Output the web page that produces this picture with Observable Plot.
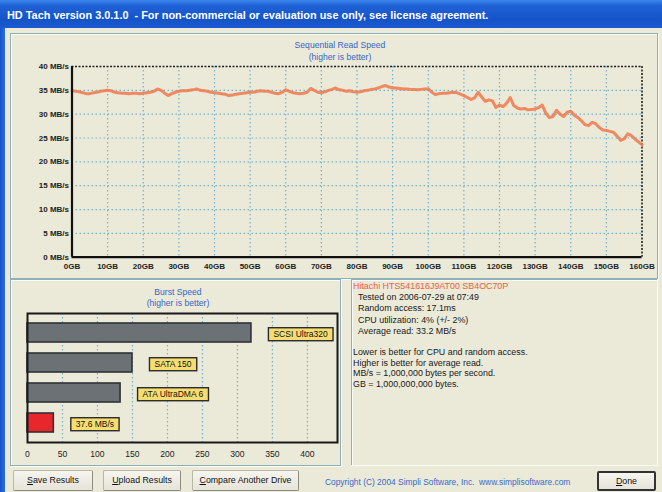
<!DOCTYPE html>
<html><head><meta charset="utf-8">
<script src="https://cdn.jsdelivr.net/npm/d3@7"></script>
<script src="https://cdn.jsdelivr.net/npm/@observablehq/plot@0.6"></script>
<style>
html,body{margin:0;padding:0;}
body{width:662px;height:492px;overflow:hidden;background:#ebe9d8;position:relative;font-family:"Liberation Sans",Arial,sans-serif;}
.abs{position:absolute;}
#titlebar{left:0;top:0;width:662px;height:28px;background:linear-gradient(#3d86ee 0%,#1f62d6 20%,#1553c8 70%,#1a5ad0 100%);}
#titletext{left:7px;top:9px;color:#fff;font-weight:bold;font-size:10.9px;white-space:nowrap;}
#leftborder{left:0;top:28px;width:5px;height:464px;background:linear-gradient(90deg,#1553c8,#2c6ee0);}
.panel{border:1px solid #8fb0b8;box-shadow:inset 1px 1px 0 #fbfbf6, 1px 1px 0 #fbfbf6;}
.ptitle{color:#3466c9;font-size:8.6px;text-align:center;white-space:nowrap;}
.info{font-size:8.9px;color:#1a1a1a;white-space:nowrap;}
.btn{background:linear-gradient(#f6f5ef,#e6e4d8);border:1px solid #b9b7a6;border-right-color:#8d8b7c;border-bottom-color:#8d8b7c;border-radius:2px;font-size:8.8px;color:#111;text-align:center;box-sizing:border-box;line-height:19px;white-space:nowrap;}
</style></head>
<body>
<div id="titlebar" class="abs"></div>
<div id="titletext" class="abs">HD Tach version 3.0.1.0&nbsp; - For non-commercial or evaluation use only, see license agreement.</div>
<div id="leftborder" class="abs"></div>
<div class="abs panel" style="left:10px;top:33px;width:646px;height:244px;"></div>
<div class="abs panel" style="left:10px;top:279px;width:329px;height:185px;"></div>
<div class="abs panel" style="left:351px;top:279px;width:305px;height:185px;border-right:none;border-bottom:none;"></div>
<div class="abs ptitle" style="left:240px;top:40px;width:200px;">Sequential Read Speed</div>
<div class="abs ptitle" style="left:240px;top:52px;width:200px;">(higher is better)</div>
<div class="abs ptitle" style="left:78px;top:287px;width:200px;">Burst Speed</div>
<div class="abs ptitle" style="left:78px;top:298px;width:200px;">(higher is better)</div>
<div id="chart1" class="abs" style="left:0;top:30px;"></div>
<div id="chart2" class="abs" style="left:0;top:270px;"></div>
<div id="info"></div>
<div class="abs btn" style="left:13px;top:470px;width:80px;height:21px;"><u>S</u>ave Results</div>
<div class="abs btn" style="left:103px;top:470px;width:78px;height:21px;"><u>U</u>pload Results</div>
<div class="abs btn" style="left:192px;top:470px;width:107px;height:21px;"><u>C</u>ompare Another Drive</div>
<div class="abs" style="left:325px;top:477px;font-size:8.4px;color:#3a6ad0;white-space:nowrap;">Copyright (C) 2004 Simpli Software, Inc.&nbsp; www.simplisoftware.com</div>
<div class="abs btn" style="left:597px;top:471px;width:59px;height:20px;border:2px solid #333;line-height:16px;"><u>D</u>one</div>
<script>
// Sequential read speed (GB, MB/s)
const seqGB = [0,1,2,3,4,5,6,7,8,9,10,11,12,13,14,15,16,17,18,19,20,21,22,23,24,25,26,27,28,29,30,31,32,33,34,35,36,37,38,39,40,41,42,43,44,45,46,47,48,49,50,51,52,53,54,55,56,57,58,59,60,61,62,63,64,65,66,67,68,69,70,71,72,73,74,75,76,77,78,79,80,81,82,83,84,85,86,87,88,89,90,91,92,93,94,95,96,97,98,99,100,101,102,103,104,105,106,107,108,109,110,111,112,113,114,115,116,117,118,119,120,121,122,123,124,125,126,127,128,129,130,131,132,133,134,135,136,137,138,139,140,141,142,143,144,145,146,147,148,149,150,151,152,153,154,155,156,157,158,159,160];
const seqMBs = [34.9,34.8,34.7,34.5,34.3,34.3,34.5,34.6,34.8,34.9,35.0,34.9,34.6,34.5,34.4,34.4,34.3,34.4,34.4,34.3,34.4,34.5,34.6,34.8,35.3,35.0,34.4,33.9,34.3,34.6,34.8,34.9,34.9,35.0,35.1,35.3,35.0,34.9,34.8,34.6,34.5,34.4,34.3,34.2,33.9,34.0,34.2,34.3,34.4,34.5,34.6,34.6,34.8,34.9,34.8,34.8,34.6,34.4,34.3,34.6,35.1,34.8,34.5,34.4,34.3,34.4,34.6,35.4,35.0,34.6,34.5,34.7,35.0,35.2,35.5,35.1,35.0,34.8,34.9,34.7,34.6,34.7,34.9,35.0,35.2,35.3,35.5,35.8,36.0,35.7,35.5,35.5,35.4,35.3,35.3,35.2,35.2,35.1,35.2,35.3,35.3,34.6,34.1,34.3,34.4,34.4,34.5,34.6,34.5,34.2,33.9,33.5,33.1,33.4,34.6,33.6,32.7,33.0,32.8,31.4,31.9,31.6,32.3,33.5,31.8,31.3,31.1,31.2,30.9,31.0,31.1,31.4,31.9,30.2,29.3,29.5,30.8,30.0,29.5,30.4,30.6,29.8,29.3,28.6,27.8,27.6,28.3,28.0,27.2,26.7,26.6,26.4,26.2,25.4,24.5,24.8,25.9,25.5,24.8,24.2,23.6];
const xTicks = [0,10,20,30,40,50,60,70,80,90,100,110,120,130,140,150,160];
const yTicks = [0,5,10,15,20,25,30,35,40];

// Burst speed
const burstNames = ["SCSI Ultra320","SATA 150","ATA UltraDMA 6","This drive"];
const burstValues = [320,150,133,37.6];
const burstLabels = ["SCSI Ultra320","SATA 150","ATA UltraDMA 6","37.6 MB/s"];
const burstColors = ["#6c7176","#6c7176","#6c7176","#e8262b"];
const burstTicks = [0,50,100,150,200,250,300,350,400];

// Info panel
const driveName = "Hitachi HTS541616J9AT00 SB4OC70P";
const infoLines = ["Tested on 2006-07-29 at 07:49","Random access: 17.1ms","CPU utilization: 4% (+/- 2%)","Average read: 33.2 MB/s"];
const noteLines = ["Lower is better for CPU and random access.","Higher is better for average read.","MB/s = 1,000,000 bytes per second.","GB = 1,000,000,000 bytes."];

const font = '"Liberation Sans", Arial, sans-serif';
const seq = seqGB.map((g,i)=>({gb:g, v:seqMBs[i]}));
const grid = "#72b4d2";

const c1 = Plot.plot({
  width: 662, height: 250,
  marginLeft: 71.5, marginRight: 20.5, marginTop: 36, marginBottom: 23.3,
  style: {background:"transparent", fontFamily: font, overflow:"visible"},
  x: {domain:[0,160]}, y: {domain:[0,40]},
  marks: [
    Plot.gridX(xTicks.filter(d=>d>0&&d<160), {stroke:grid, strokeOpacity:1, strokeDasharray:"1.5,2.5", strokeWidth:1.2}),
    Plot.gridY(yTicks.filter(d=>d>0&&d<40), {stroke:grid, strokeOpacity:1, strokeDasharray:"1.5,2.5", strokeWidth:1.2}),
    Plot.ruleY([40], {stroke:"#222", strokeDasharray:"2,1.5", strokeWidth:1.6}),
    Plot.ruleX([160], {stroke:"#222", strokeDasharray:"2,1.5", strokeWidth:1.6}),
    Plot.line(seq, {x:"gb", y:"v", stroke:"#f07a4e", strokeWidth:3, strokeOpacity:0.88, strokeLinejoin:"round"}),
    Plot.ruleX([0], {stroke:"#111", strokeWidth:2.2}),
    Plot.ruleY([0], {stroke:"#111", strokeWidth:2.2}),
    Plot.axisY({ticks:yTicks, tickFormat:d=>d+" MB/s", tickSize:0, tickPadding:3, label:null, fontSize:8, fontWeight:"bold", fill:"#222"}),
    Plot.axisX({ticks:xTicks, tickFormat:d=>d+"GB", tickSize:0, tickPadding:6, label:null, fontSize:8, fontWeight:"bold", fill:"#222"})
  ]
});
document.getElementById("chart1").appendChild(c1);

const burst = burstNames.map((n,i)=>({name:n, value:burstValues[i], label:burstLabels[i], color:burstColors[i]}));
const c2 = Plot.plot({
  width: 345, height: 195,
  marginLeft: 27, marginRight: 8, marginTop: 43, marginBottom: 23,
  style: {background:"transparent", fontFamily: font, overflow:"visible"},
  x: {domain:[0,443]},
  y: {domain: burstNames, paddingInner:0.38, paddingOuter:0.29, axis:null},
  marks: [
    Plot.gridX(burstTicks.filter(d=>d>0), {stroke:grid, strokeOpacity:1, strokeDasharray:"1.5,2.5", strokeWidth:1.2}),
    Plot.barX(burst, {x:"value", y:"name", fill:"color", stroke:"#2e3236", strokeWidth:1.6}),
    Plot.text(burst, {x:"value", y:"name", text:"label", dx:22, dy:1.5, textAnchor:"start", fontSize:8.5, fill:"#111"}),
    Plot.frame({stroke:"#1a1a1a", strokeWidth:2}),
    Plot.axisX({ticks:burstTicks, tickSize:0, tickPadding:8, label:null, fontSize:8.6, fill:"#222"})
  ]
});
document.getElementById("chart2").appendChild(c2);
// yellow label boxes behind the label texts
c2.querySelectorAll('g[aria-label="text"] text').forEach(t=>{
  const b = t.getBBox();
  const r = document.createElementNS("http://www.w3.org/2000/svg","rect");
  r.setAttribute("x", b.x-5); r.setAttribute("y", b.y+b.height/2-6.5);
  r.setAttribute("width", b.width+10); r.setAttribute("height", 13);
  r.setAttribute("fill", "#f6dd72"); r.setAttribute("stroke", "#2a2a2a"); r.setAttribute("stroke-width", 1.4);
  if (t.getAttribute("transform")) r.setAttribute("transform", t.getAttribute("transform"));
  t.parentNode.insertBefore(r, t);
});

// info texts
const info = document.getElementById("info");
function addText(s, x, y, color){
  const d = document.createElement("div");
  d.className = "abs info"; d.style.left = x+"px"; d.style.top = y+"px";
  if (color) d.style.color = color;
  d.textContent = s; info.appendChild(d);
}
addText(driveName, 353, 281, "#f0603a");
infoLines.forEach((s,i)=>addText(s, 358, 292 + i*11.3));
noteLines.forEach((s,i)=>addText(s, 353, 347 + i*10.6));
</script>
</body></html>
